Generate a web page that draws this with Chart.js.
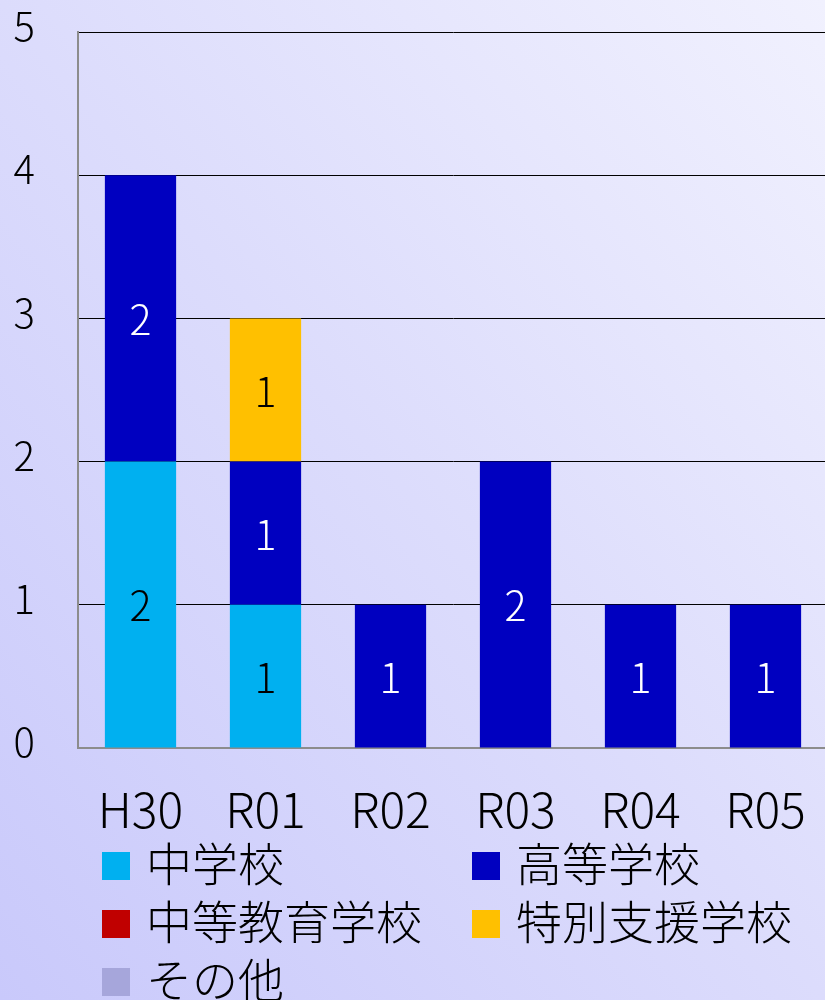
<!DOCTYPE html>
<html lang="ja">
<head>
<meta charset="utf-8">
<script src="https://cdn.jsdelivr.net/npm/chart.js@4/dist/chart.umd.min.js"></script>
<style>
  html, body { margin:0; padding:0; overflow:hidden; }
  #wrap { position:relative; width:825px; height:1000px; overflow:hidden;
    background: linear-gradient(to top right, #c9c9fb 0%, #dcdcfc 50%, #f1f1fe 100%);
    font-family: "Noto Sans CJK JP", "Noto Sans", sans-serif; }
  #cv { position:absolute; left:0; top:0; }
  #legend { position:absolute; left:102px; top:832px; display:grid;
    grid-template-columns: 370px 330px; grid-auto-rows: 58px; }
  .item { display:flex; align-items:center; font-size:46px; font-weight:300; color:#000; line-height:1; }
  .box { width:28px; height:28px; margin-right:16px; flex:none; position:relative; top:5px; }
</style>
</head>
<body>
<div id="wrap">
  <canvas id="cv" width="828" height="838" style="width:828px;height:838px"></canvas>
  <div id="legend"></div>
</div>
<script>
const categories = ['H30', 'R01', 'R02', 'R03', 'R04', 'R05'];
const seriesNames = ['中学校', '高等学校', '中等教育学校', '特別支援学校', 'その他'];
const juniorHigh = [2, 1, 0, 0, 0, 0];
const highSchool = [2, 1, 1, 2, 1, 1];
const secondary = [0, 0, 0, 0, 0, 0];
const specialNeeds = [0, 1, 0, 0, 0, 0];
const others = [0, 0, 0, 0, 0, 0];
const yTicks = [0, 1, 2, 3, 4, 5];

const colors = ['#00b0f0', '#0000c0', '#c00000', '#ffc000', '#a6a6db'];
const labelColors = ['#000', '#fff', '#fff', '#000', '#000'];
const seriesValues = [juniorHigh, highSchool, secondary, specialNeeds, others];

const FONT = '"Noto Sans CJK JP", "Noto Sans", sans-serif';

const barLabels = {
  id: 'barLabels',
  afterDatasetsDraw(chart) {
    const ctx = chart.ctx;
    ctx.save();
    ctx.font = '300 41px ' + FONT;
    ctx.textAlign = 'center';
    ctx.textBaseline = 'middle';
    chart.data.datasets.forEach((ds, i) => {
      const meta = chart.getDatasetMeta(i);
      meta.data.forEach((bar, j) => {
        const v = ds.data[j];
        if (!v) return;
        const y = (bar.y + bar.base) / 2;
        ctx.fillStyle = labelColors[i];
        ctx.fillText(String(v), bar.x, y + 1);
      });
    });
    ctx.restore();
  }
};

const chart = new Chart(document.getElementById('cv'), {
  type: 'bar',
  data: {
    labels: categories,
    datasets: seriesNames.map((n, i) => ({
      label: n,
      data: seriesValues[i],
      backgroundColor: colors[i],
      borderWidth: 0,
      categoryPercentage: 1,
      barPercentage: 0.57
    }))
  },
  options: {
    responsive: false,
    animation: false,
    devicePixelRatio: 1,
    layout: { padding: { top: 32, left: 0, right: 0, bottom: 0 } },
    plugins: { legend: { display: false }, tooltip: { enabled: false } },
    scales: {
      x: {
        stacked: true,
        grid: { display: false, drawTicks: false },
        border: { display: true, color: '#8c8c8c', width: 2 },
        ticks: { color: '#000', font: { family: FONT, size: 48, weight: 300 }, padding: 33 },
        afterFit(s) { s.height = 90; s.paddingLeft = 0; s.paddingRight = 0; }
      },
      y: {
        stacked: true,
        min: 0, max: 5,
        afterBuildTicks(s) { s.ticks = yTicks.map(v => ({ value: v })); },
        grid: {
          drawTicks: false,
          color: c => c.tick && c.tick.value === 0 ? '#8c8c8c' : '#000',
          lineWidth: 1
        },
        border: { display: true, color: '#8c8c8c', width: 2 },
        ticks: { color: '#000', font: { family: FONT, size: 40, weight: 300 }, padding: 43, labelOffset: -6 },
        afterFit(s) { s.width = 78; s.paddingTop = 0; s.paddingBottom = 0; }
      }
    }
  },
  plugins: [barLabels]
});

const legend = document.getElementById('legend');
seriesNames.forEach((n, i) => {
  const it = document.createElement('div');
  it.className = 'item';
  const b = document.createElement('span');
  b.className = 'box';
  b.style.background = colors[i];
  const t = document.createElement('span');
  t.textContent = n;
  it.appendChild(b); it.appendChild(t);
  legend.appendChild(it);
});
</script>
</body>
</html>
